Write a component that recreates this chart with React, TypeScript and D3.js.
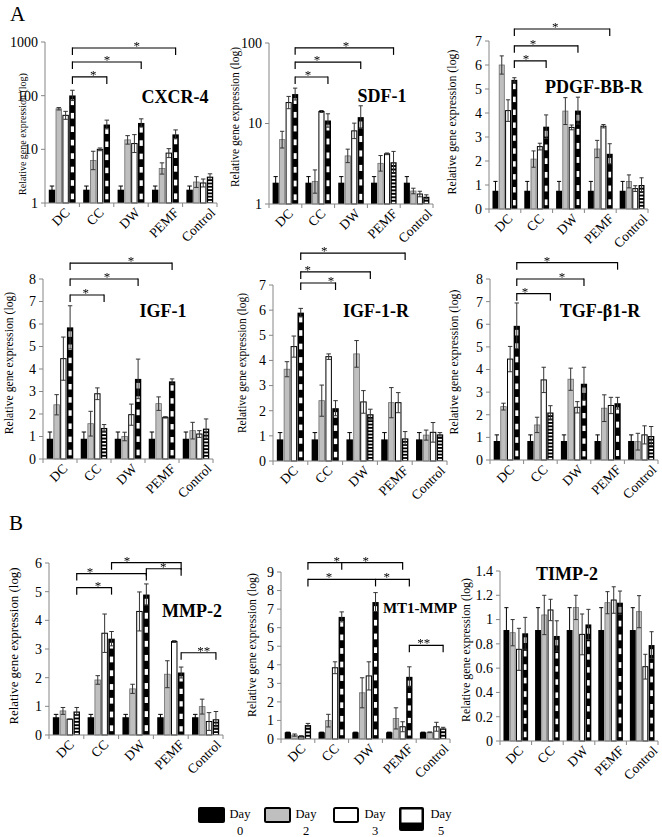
import React from 'react';
import * as d3 from 'd3';

const categories = ['DC', 'CC', 'DW', 'PEMF', 'Control'];
const dayLabels = ['0', '2', '3', '5'];

// values per category: [day0, day2, day3, day5]; "Upper" = top of error bar
const cxcr4Mean = [[1.77, 57, 43, 101], [1.77, 6.2, 10, 29], [1.77, 15, 12.8, 31], [1.77, 4.4, 8.5, 19], [1.77, 2.46, 2.36, 3.1]];
const cxcr4Upper = [[2.07, 60, 51, 126], [2.07, 9.2, 10.6, 35], [2.07, 18, 18.8, 37], [2.07, 5.6, 10.3, 23], [2.07, 3.1, 2.8, 3.5]];

const sdf1Mean = [[1.84, 6.3, 18.2, 23.2], [1.84, 1.9, 14.1, 10.9], [1.84, 3.96, 8.1, 12], [1.84, 3.2, 4.2, 3.3], [1.84, 1.45, 1.33, 1.23]];
const sdf1Upper = [[2.19, 8.0, 21.7, 27.5], [2.19, 2.65, 14.5, 13.2], [2.19, 4.8, 10.1, 16.6], [2.19, 4.0, 4.3, 4.5], [2.19, 1.57, 1.44, 1.3]];

const pdgfMean = [[0.76, 6.0, 4.1, 5.38], [0.76, 2.08, 2.6, 3.43], [0.76, 4.08, 3.4, 4.1], [0.76, 2.5, 3.45, 2.3], [0.76, 1.15, 0.85, 1.0]];
const pdgfUpper = [[1.15, 6.38, 4.55, 5.47], [1.15, 2.42, 2.74, 3.92], [1.15, 4.64, 3.5, 4.66], [1.15, 2.86, 3.52, 2.72], [1.15, 1.42, 0.97, 1.3]];

const igf1Mean = [[0.9, 2.41, 4.46, 5.85], [0.9, 1.57, 2.9, 1.38], [0.9, 1.0, 1.97, 3.56], [0.9, 2.46, 1.85, 3.45], [0.9, 1.26, 1.11, 1.35]];
const igf1Upper = [[1.2, 2.86, 5.42, 6.81], [1.2, 2.12, 3.16, 1.53], [1.2, 1.19, 2.44, 4.44], [1.2, 2.76, 1.88, 3.56], [1.2, 1.63, 1.26, 1.78]];

const igf1rMean = [[0.86, 3.65, 4.55, 5.9], [0.86, 2.4, 4.15, 2.1], [0.86, 4.26, 2.35, 1.86], [0.86, 2.32, 2.32, 0.9], [0.86, 1.03, 1.14, 1.06]];
const igf1rUpper = [[1.13, 3.95, 4.97, 6.07], [1.13, 3.02, 4.26, 2.4], [1.13, 4.79, 2.8, 2.06], [1.13, 2.92, 2.72, 1.17], [1.13, 1.23, 1.53, 1.13]];

const tgfMean = [[0.84, 2.36, 4.46, 5.93], [0.84, 1.55, 3.54, 2.1], [0.84, 3.57, 2.33, 3.37], [0.84, 2.29, 2.41, 2.51], [0.84, 0.81, 1.11, 1.06]];
const tgfUpper = [[1.11, 2.51, 5.02, 6.94], [1.11, 1.89, 4.1, 2.4], [1.11, 4.06, 2.58, 4.1], [1.11, 2.88, 2.77, 2.77], [1.11, 1.18, 1.51, 1.48]];

const mmp2Mean = [[0.62, 0.84, 0.55, 0.82], [0.62, 1.92, 3.55, 3.36], [0.62, 1.61, 4.31, 4.9], [0.62, 2.12, 3.26, 2.18], [0.62, 0.99, 0.47, 0.55]];
const mmp2Upper = [[0.72, 0.96, 0.56, 0.96], [0.72, 2.07, 4.22, 3.61], [0.72, 1.77, 4.99, 5.27], [0.72, 2.59, 3.29, 2.37], [0.72, 1.25, 0.78, 0.82]];

const mt1Mean = [[0.36, 0.21, 0.14, 0.75], [0.36, 0.99, 3.84, 6.58], [0.36, 2.49, 3.4, 7.38], [0.36, 1.11, 0.66, 3.35], [0.36, 0.36, 0.66, 0.57]];
const mt1Upper = [[0.37, 0.27, 0.18, 0.84], [0.37, 1.33, 4.16, 6.85], [0.37, 3.3, 4.16, 7.89], [0.37, 1.68, 0.93, 3.89], [0.37, 0.38, 0.9, 0.63]];

const timpMean = [[0.914, 0.892, 0.755, 0.887], [0.914, 1.038, 1.079, 0.865], [0.914, 1.1, 0.878, 0.96], [0.914, 1.139, 1.161, 1.139], [0.914, 1.065, 0.612, 0.79]];
const timpUpper = [[1.098, 1.0, 0.928, 1.018], [1.098, 1.2, 1.167, 0.99], [1.098, 1.2, 1.046, 1.084], [1.098, 1.23, 1.27, 1.235], [1.098, 1.197, 0.714, 0.9]];

const logTicks3 = [1, 10, 100, 1000];
const logTicks2 = [1, 10, 100];
const ticks0to7 = [0, 1, 2, 3, 4, 5, 6, 7];
const ticks0to8 = [0, 1, 2, 3, 4, 5, 6, 7, 8];
const ticks0to6 = [0, 1, 2, 3, 4, 5, 6];
const ticks0to9 = [0, 1, 2, 3, 4, 5, 6, 7, 8, 9];
const ticksTimp = [0, 0.2, 0.4, 0.6, 0.8, 1, 1.2, 1.4];

const SERIF = "'Liberation Serif', 'Times New Roman', serif";

type Bracket = { v: number; drops: [number, number][]; stars: number[]; label?: string };
type Panel = {
  title: string; titleX: number; titleY: number; titleSize: number;
  x0: number; x1: number; yTop: number; yBot: number;
  log: boolean; domain: [number, number]; ticks: number[];
  mean: number[][]; upper: number[][];
  brackets: Bracket[];
  yTitleX: number; yTitleY: number; yTitleSize: number; tickSize: number;
};

const panels: Panel[] = [
  { title: 'CXCR-4', titleX: 175, titleY: 103, titleSize: 18, x0: 45, x1: 217, yTop: 42, yBot: 203, log: true, domain: [1, 1000], ticks: logTicks3, mean: cxcr4Mean, upper: cxcr4Upper,
    brackets: [{ v: 773, drops: [[0, 3], [3, 3]], stars: [2.67] }, { v: 424, drops: [[0, 3], [2, 3]], stars: [1.8] }, { v: 223, drops: [[0, 3], [1, 3]], stars: [1.4] }],
    yTitleX: 26, yTitleY: 134, yTitleSize: 10, tickSize: 14 },
  { title: 'SDF-1', titleX: 382, titleY: 102, titleSize: 18, x0: 269, x1: 433, yTop: 43, yBot: 204, log: true, domain: [1, 100], ticks: logTicks2, mean: sdf1Mean, upper: sdf1Upper,
    brackets: [{ v: 87, drops: [[0, 3], [3, 3]], stars: [2.35] }, { v: 58, drops: [[0, 3], [2, 3]], stars: [1.46] }, { v: 37.8, drops: [[0, 3], [1, 3]], stars: [1.19] }],
    yTitleX: 239, yTitleY: 117, yTitleSize: 11.5, tickSize: 14 },
  { title: 'PDGF-BB-R', titleX: 594, titleY: 93, titleSize: 18, x0: 489, x1: 648, yTop: 41, yBot: 209, log: false, domain: [0, 7], ticks: ticks0to7, mean: pdgfMean, upper: pdgfUpper,
    brackets: [{ v: 7.5, drops: [[0, 3], [3, 3]], stars: [2.08] }, { v: 6.8, drops: [[0, 3], [2, 3]], stars: [1.38] }, { v: 6.17, drops: [[0, 3], [1, 3]], stars: [1.16] }],
    yTitleX: 456, yTitleY: 122, yTitleSize: 11.9, tickSize: 14 },
  { title: 'IGF-1', titleX: 163, titleY: 317, titleSize: 18, x0: 43, x1: 213, yTop: 279, yBot: 459, log: false, domain: [0, 8], ticks: ticks0to8, mean: igf1Mean, upper: igf1Upper,
    brackets: [{ v: 8.71, drops: [[0, 3], [3, 3]], stars: [2.59] }, { v: 8.0, drops: [[0, 3], [2, 3]], stars: [1.88] }, { v: 7.29, drops: [[0, 3], [1, 3]], stars: [1.26] }],
    yTitleX: 13, yTitleY: 363, yTitleSize: 11.7, tickSize: 14 },
  { title: 'IGF-1-R', titleX: 376, titleY: 317, titleSize: 18, x0: 273, x1: 447, yTop: 285, yBot: 461, log: false, domain: [0, 7], ticks: ticks0to7, mean: igf1rMean, upper: igf1rUpper,
    brackets: [{ v: 8.27, drops: [[0, 3], [3, 3]], stars: [1.47] }, { v: 7.52, drops: [[0, 3], [2, 3]], stars: [1.0] }, { v: 7.08, drops: [[0, 3], [1, 3]], stars: [1.67] }],
    yTitleX: 246, yTitleY: 363, yTitleSize: 11.5, tickSize: 14 },
  { title: 'TGF-β1-R', titleX: 600, titleY: 317, titleSize: 18, x0: 490, x1: 658, yTop: 279, yBot: 460, log: false, domain: [0, 8], ticks: ticks0to8, mean: tgfMean, upper: tgfUpper,
    brackets: [{ v: 8.72, drops: [[0, 3], [3, 3]], stars: [1.7] }, { v: 8.0, drops: [[0, 3], [2, 3]], stars: [2.14] }, { v: 7.35, drops: [[0, 3], [1, 3]], stars: [1.04] }],
    yTitleX: 458, yTitleY: 362, yTitleSize: 11.9, tickSize: 14 },
  { title: 'MMP-2', titleX: 192, titleY: 617, titleSize: 18, x0: 49, x1: 223, yTop: 563, yBot: 735, log: false, domain: [0, 6], ticks: ticks0to6, mean: mmp2Mean, upper: mmp2Upper,
    brackets: [
      { v: 5.63, drops: [[0, 3], [2, 3]], stars: [1.18] },
      { v: 6.01, drops: [[1, 3], [3, 3]], stars: [2.24] },
      { v: 5.8, drops: [[2, 3], [3, 3]], stars: [3.28] },
      { v: 5.14, drops: [[0, 3], [1, 3]], stars: [1.41] },
      { v: 2.87, drops: [[3, 3], [4, 3]], stars: [4.45], label: '**' },
    ],
    yTitleX: 17.5, yTitleY: 646, yTitleSize: 12.9, tickSize: 14 },
  { title: 'MT1-MMP', titleX: 420, titleY: 613, titleSize: 15, x0: 281, x1: 450, yTop: 572, yBot: 739, log: false, domain: [0, 9], ticks: ticks0to9, mean: mt1Mean, upper: mt1Upper,
    brackets: [
      { v: 9.5, drops: [[0, 3], [1, 3], [3, 2]], stars: [1.65, 2.51] },
      { v: 8.6, drops: [[0, 3], [2, 3], [3, 3]], stars: [1.42, 3.13] },
      { v: 5.05, drops: [[3, 3], [4, 3]], stars: [4.22], label: '**' },
    ],
    yTitleX: 256, yTitleY: 645, yTitleSize: 11.8, tickSize: 14 },
  { title: 'TIMP-2', titleX: 567, titleY: 580, titleSize: 18, x0: 500, x1: 658, yTop: 571, yBot: 741, log: false, domain: [0, 1.4], ticks: ticksTimp, mean: timpMean, upper: timpUpper,
    brackets: [],
    yTitleX: 469.5, yTitleY: 650, yTitleSize: 11.8, tickSize: 14 },
];

let measureCtx: CanvasRenderingContext2D | null = null;
function textWidth(t: string, size: number) {
  if (!measureCtx && typeof document !== 'undefined') measureCtx = document.createElement('canvas').getContext('2d');
  if (!measureCtx) return t.length * size * 0.5;
  measureCtx.font = `${size}px ${SERIF}`;
  return measureCtx.measureText(t).width;
}

function Day5Bar({ x, y, w, h }: { x: number; y: number; w: number; h: number }) {
  const parts: React.ReactNode[] = [<rect key="b" x={x} y={y} width={w} height={h} fill="#000" />];
  if (h >= 50) {
    const n = Math.max(1, Math.round(h / 13.5));
    const pitch = h / n;
    for (let i = 0; i < n; i++) {
      parts.push(<rect key={i} x={x + 1.6} y={y + i * pitch + pitch * 0.3} width={Math.max(0.5, w - 3.2)} height={pitch * 0.42} fill="#fff" />);
    }
  } else if (h > 3) {
    const n = Math.max(1, Math.round(h / 3.4));
    const pitch = h / n;
    for (let i = 0; i < n; i++) {
      parts.push(<rect key={i} x={x + 1.3} y={y + i * pitch + pitch * 0.35} width={Math.max(0.5, w - 2.6)} height={pitch * 0.45} fill="#fff" />);
    }
  }
  return <g>{parts}</g>;
}

function PanelChart({ p }: { p: Panel }) {
  const xBand = d3.scaleBand<string>().domain(categories).range([p.x0, p.x1]).padding(0);
  const catW = xBand.bandwidth();
  const inner = d3.scaleBand<string>().domain(dayLabels).range([catW * 0.11, catW * 0.89]).paddingInner(0.06);
  const bw = inner.bandwidth();
  const y = p.log
    ? d3.scaleLog().domain(p.domain).range([p.yBot, p.yTop])
    : d3.scaleLinear().domain(p.domain).range([p.yBot, p.yTop]);
  const fmt = p.log ? d3.format('d') : d3.format('~g');
  const axisColor = '#868686';
  const barX = (ci: number, di: number) => (xBand(categories[ci]) as number) + (inner(dayLabels[di]) as number);
  const barCx = (ci: number, di: number) => barX(ci, di) + bw / 2;

  const bars: React.ReactNode[] = [];
  const errs: React.ReactNode[] = [];
  p.mean.forEach((row, ci) => {
    row.forEach((v, di) => {
      const x = barX(ci, di);
      const yv = y(v);
      const h = p.yBot - yv;
      const key = `${ci}-${di}`;
      if (di === 0) bars.push(<rect key={key} x={x} y={yv} width={bw} height={h} fill="#000" />);
      else if (di === 1) bars.push(<rect key={key} x={x + 0.4} y={yv} width={bw - 0.8} height={h} fill="#bfbfbf" stroke="#6f6f6f" strokeWidth={0.8} />);
      else if (di === 2) bars.push(<rect key={key} x={x + 0.5} y={yv} width={bw - 1} height={h} fill="#fff" stroke="#000" strokeWidth={1} />);
      else bars.push(<Day5Bar key={key} x={x} y={yv} w={bw} h={h} />);
      const yu = y(p.upper[ci][di]);
      const yl = 2 * yv - yu;
      const cx = x + bw / 2;
      const cap = bw * 0.35;
      const col = di === 0 ? '#000' : '#333';
      errs.push(
        <g key={'e' + key} stroke={col} strokeWidth={1} fill="none">
          <line x1={cx} x2={cx} y1={yl} y2={yu} />
          <line x1={cx - cap} x2={cx + cap} y1={yu} y2={yu} />
          <line x1={cx - cap} x2={cx + cap} y1={yl} y2={yl} />
        </g>
      );
    });
  });

  const labelSize = 13.5;
  return (
    <g>
      {p.ticks.map((t) => (
        <g key={'t' + t}>
          <line x1={p.x0 - 4} x2={p.x0} y1={y(t)} y2={y(t)} stroke={axisColor} />
          <text x={p.x0 - 7} y={y(t)} dy="0.35em" textAnchor="end" fontFamily={SERIF} fontSize={p.tickSize} fill="#000">{fmt(t)}</text>
        </g>
      ))}
      <line x1={p.x0} x2={p.x0} y1={p.yTop} y2={p.yBot} stroke={axisColor} />
      {bars}
      {errs}
      <line x1={p.x0} x2={p.x1} y1={p.yBot} y2={p.yBot} stroke={axisColor} />
      {d3.range(categories.length + 1).map((i) => {
        const xx = p.x0 + i * catW;
        return <line key={'xt' + i} x1={xx} x2={xx} y1={p.yBot} y2={p.yBot + 4} stroke={axisColor} />;
      })}
      {categories.map((c) => {
        const cx = (xBand(c) as number) + catW / 2;
        const L = textWidth(c, labelSize);
        const A = 0.68 * labelSize;
        const px = cx + 0.7071 * (L + A) / 2 - 1.5;
        const py = p.yBot + 4 + 0.7071 * A;
        return (
          <text key={'c' + c} transform={`translate(${px},${py}) rotate(-45)`} textAnchor="end" fontFamily={SERIF} fontSize={labelSize} fill="#000">{c}</text>
        );
      })}
      <text transform={`translate(${p.yTitleX},${p.yTitleY}) rotate(-90)`} textAnchor="middle" fontFamily={SERIF} fontSize={p.yTitleSize} fill="#000">Relative gene expression (log)</text>
      <text x={p.titleX} y={p.titleY} textAnchor="middle" fontFamily={SERIF} fontWeight="bold" fontSize={p.titleSize} fill="#000">{p.title}</text>
      {p.brackets.map((b, bi) => {
        const yy = y(b.v);
        const xs = b.drops.map(([ci, di]) => barCx(ci, di));
        return (
          <g key={'b' + bi}>
            <line x1={Math.min(...xs)} x2={Math.max(...xs)} y1={yy} y2={yy} stroke="#000" strokeWidth={1.2} />
            {xs.map((xx, k) => <line key={k} x1={xx} x2={xx} y1={yy - 0.6} y2={yy + 7} stroke="#000" strokeWidth={1.2} />)}
            <g filter="url(#grayText)">
              {b.stars.map((s, k) => (
                <text key={'s' + k} x={p.x0 + s * catW} y={yy + 2} textAnchor="middle" fontFamily={SERIF} fontSize={13} fill="#000">{b.label || '*'}</text>
              ))}
            </g>
          </g>
        );
      })}
    </g>
  );
}

const legendItems = ['Day 0', 'Day 2', 'Day 3', 'Day 5'];

function Legend() {
  const starts = [198, 264, 333, 399];
  return (
    <g>
      {legendItems.map((name, i) => {
        const x = starts[i];
        const [w1, w2] = name.split(' ');
        let box: React.ReactNode;
        if (i === 0) box = <rect x={x} y={807} width={27} height={16} rx={2} fill="#000" />;
        else if (i === 1) box = <rect x={x + 1} y={808} width={25} height={14} rx={1.5} fill="#bfbfbf" stroke="#000" strokeWidth={2} />;
        else if (i === 2) box = <rect x={x + 1} y={808} width={24} height={14} rx={1.5} fill="#fff" stroke="#000" strokeWidth={2} />;
        else box = (
          <g>
            <rect x={x} y={807} width={25} height={24} rx={2} fill="#000" />
            <rect x={x + 2.5} y={809.5} width={20} height={13} fill="#fff" />
          </g>
        );
        const tx = x + 42;
        return (
          <g key={name}>
            {box}
            <text x={tx} y={818} textAnchor="middle" fontFamily={SERIF} fontSize={12.5} fill="#000">{w1}</text>
            <text x={tx} y={835} textAnchor="middle" fontFamily={SERIF} fontSize={12.5} fill="#000">{w2}</text>
          </g>
        );
      })}
    </g>
  );
}

export default function App() {
  return (
    <svg width={662} height={837} viewBox="0 0 662 837" style={{ position: 'absolute', left: 0, top: 0, background: '#fff' }}>
      <defs>
        <filter id="grayText" x="-50%" y="-50%" width="200%" height="200%" colorInterpolationFilters="sRGB">
          <feColorMatrix type="saturate" values="0" />
        </filter>
      </defs>
      <rect x={0} y={0} width={662} height={837} fill="#fff" />
      <text x={10} y={21} fontFamily={SERIF} fontSize={21} fill="#000">A</text>
      <text x={9} y={530} fontFamily={SERIF} fontSize={21} fill="#000">B</text>
      {panels.map((p) => <PanelChart key={p.title} p={p} />)}
      <Legend />
    </svg>
  );
}
